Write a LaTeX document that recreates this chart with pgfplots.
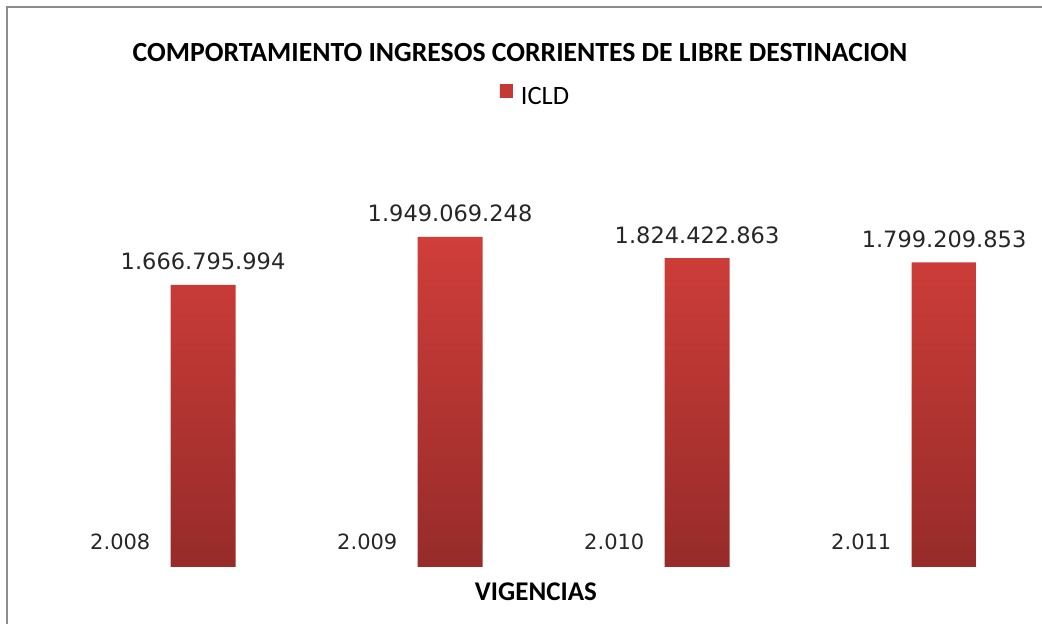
\documentclass[border=0pt]{standalone}
\usepackage{pgfplots}
\pgfplotsset{compat=1.18}
\usepackage{fontspec}
\setmainfont{Carlito}
\newfontfamily\dv{DejaVu Sans}

\definecolor{bartop}{RGB}{208,62,58}
\definecolor{barbot}{RGB}{150,43,41}
\definecolor{legred}{RGB}{196,56,53}
\definecolor{framegray}{RGB}{140,140,140}

\begin{document}
\begin{tikzpicture}
\path[use as bounding box] (0,0) rectangle (1042pt,624pt);
\draw[framegray, line width=2pt] (7pt,-10pt) -- (7pt,617pt) -- (1060pt,617pt);
\node[font=\fontsize{27.7}{32}\selectfont\bfseries] at (520pt,571pt)
  {COMPORTAMIENTO INGRESOS CORRIENTES DE LIBRE DESTINACION};

\begin{axis}[
  at={(91.9pt,57pt)}, anchor=south west,
  scale only axis,
  width=938.6pt, height=372.49pt,
  xmin=-0.45, xmax=3.35,
  ymin=0, ymax=2.2e9,
  axis line style={draw=none},
  xtick=\empty, ytick=\empty,
  xlabel={VIGENCIAS},
  every axis x label/.style={at={(rel axis cs:0.4731,-0.0671)}, anchor=center,
    font=\fontsize{27}{32}\selectfont\bfseries},
  legend style={at={(rel axis cs:0.4726,1.2645)}, anchor=center, draw=none, fill=none,
    font=\fontsize{26.5}{30}\selectfont, legend cell align=left},
  clip=false,
]
\addplot[ybar, bar width=65pt, draw=none, top color=bartop, bottom color=barbot,
  nodes near coords, point meta=explicit symbolic,
  every node near coord/.append style={font=\dv\fontsize{22.5}{27}\selectfont,
    text=black!85, inner sep=0pt, anchor=base, yshift=15pt},
  legend image code/.code={\path[draw=none, top color=legred, bottom color=legred]
    (0pt,-0.5pt) rectangle (13pt,12.5pt); \path (19pt,0pt);}]
  coordinates {
  (0,1666795994) [1.666.795.994]
  (1,1949069248) [1.949.069.248]
  (2,1824422863) [1.824.422.863]
  (3,1799209853) [1.799.209.853]
};
\addlegendentry{ICLD}
\addplot[draw=none, mark=none, forget plot,
  nodes near coords, point meta=explicit symbolic,
  every node near coord/.append style={font=\dv\fontsize{21}{26}\selectfont,
    text=black!85, inner sep=0pt, anchor=base east}]
  coordinates {
  (-0.2126,1.063e8) [2.008]
  (0.7874,1.063e8) [2.009]
  (1.7874,1.063e8) [2.010]
  (2.7874,1.063e8) [2.011]
};
\end{axis}
\end{tikzpicture}
\end{document}
